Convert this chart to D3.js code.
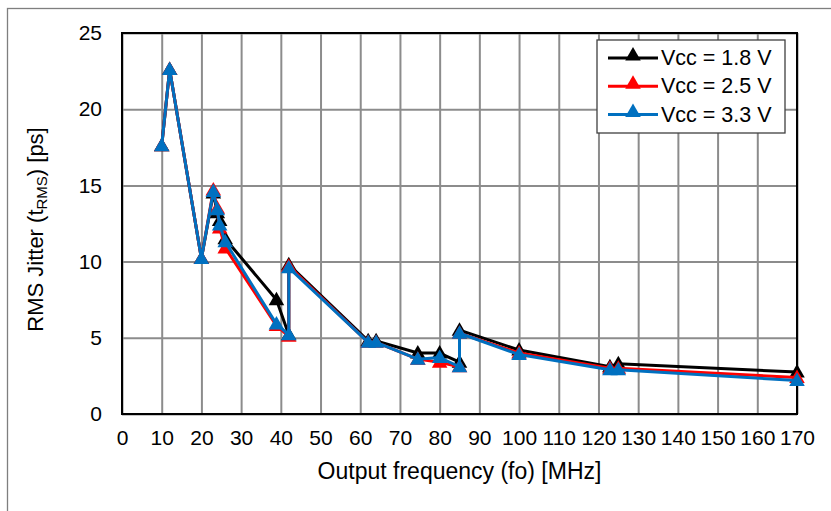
<!DOCTYPE html>
<html><head><meta charset="utf-8">
<script src="https://cdn.jsdelivr.net/npm/d3@7"></script>
<style>
body{margin:0;background:#fff;}
svg{display:block;font-family:"Liberation Sans",Arial,sans-serif;}
</style></head>
<body>
<svg id="c" width="831" height="511"></svg>
<script>
const freq = [10, 12, 20, 23, 24, 24.6, 26, 38.9, 42, 42, 62, 64, 74.5, 80, 85, 85, 100, 122.88, 125, 170];
const vcc18 = [17.6, 22.6, 10.2, 14.5, 13.2, 12.7, 11.5, 7.5, 5.2, 9.8, 4.8, 4.8, 4.0, 4.0, 3.4, 5.5, 4.2, 3.1, 3.3, 2.75];
const vcc25 = [17.6, 22.6, 10.2, 14.7, 13.5, 12.2, 10.9, 5.8, 5.1, 9.7, 4.7, 4.7, 3.6, 3.4, 3.1, 5.3, 4.0, 3.0, 3.0, 2.4];
const vcc33 = [17.6, 22.6, 10.2, 14.6, 13.4, 12.4, 11.3, 5.9, 5.2, 9.6, 4.7, 4.7, 3.6, 3.7, 3.1, 5.3, 3.9, 2.9, 2.9, 2.2];
const seriesNames = ["Vcc = 1.8 V", "Vcc = 2.5 V", "Vcc = 3.3 V"];
const seriesColors = ["#000000", "#ff0000", "#0070c0"];
const xTicks = d3.range(0, 171, 10);
const yTicks = d3.range(0, 26, 5);

const svg = d3.select("#c");
const L = 122, R = 797, T = 33, B = 414;
const x = d3.scaleLinear().domain([0, 170]).range([L, R]);
const y = d3.scaleLinear().domain([0, 25]).range([B, T]);

// outer chart border
svg.append("rect").attr("x", 7.5).attr("y", 8.5).attr("width", 830).attr("height", 520)
  .attr("fill", "none").attr("stroke", "#7f7f7f").attr("stroke-width", 1.3);

// gridlines
const gx = svg.append("g").attr("transform", `translate(0,${B})`)
  .call(d3.axisBottom(x).tickValues(xTicks).tickSize(-(B - T)).tickFormat(""));
gx.select(".domain").remove();
gx.selectAll("line").attr("stroke", "#8c8c8c").attr("stroke-width", 2);
const gy = svg.append("g").attr("transform", `translate(${L},0)`)
  .call(d3.axisLeft(y).tickValues(yTicks).tickSize(-(R - L)).tickFormat(""));
gy.select(".domain").remove();
gy.selectAll("line").attr("stroke", "#8c8c8c").attr("stroke-width", 2);

// frame
svg.append("rect").attr("x", L).attr("y", T).attr("width", R - L).attr("height", B - T)
  .attr("fill", "none").attr("stroke", "#000").attr("stroke-width", 2);

// tick labels
const ax = svg.append("g").attr("transform", `translate(0,${B})`)
  .call(d3.axisBottom(x).tickValues(xTicks).tickSize(0).tickPadding(16).tickFormat(d3.format("d")));
ax.select(".domain").remove();
ax.selectAll("text").attr("font-size", 21).attr("fill", "#000").attr("font-family", "Liberation Sans, Arial, sans-serif");
const ay = svg.append("g").attr("transform", `translate(${L},0)`)
  .call(d3.axisLeft(y).tickValues(yTicks).tickSize(0).tickPadding(20).tickFormat(d3.format("d")));
ay.select(".domain").remove();
ay.selectAll("text").attr("font-size", 21).attr("fill", "#000").attr("font-family", "Liberation Sans, Arial, sans-serif");

// axis titles
svg.append("text").attr("x", (L + R) / 2).attr("y", 479).attr("text-anchor", "middle")
  .attr("font-size", 23).text("Output frequency (fo) [MHz]");
const yt = svg.append("text").attr("transform", `translate(43,${(T + B) / 2 + 6}) rotate(-90)`)
  .attr("text-anchor", "middle").attr("font-size", 22);
yt.append("tspan").text("RMS Jitter (t");
yt.append("tspan").attr("font-size", 15).attr("dy", 4).text("RMS");
yt.append("tspan").attr("dy", -4).text(") [ps]");

// series
const all = [vcc18, vcc25, vcc33];
const tri = d3.symbol().type(d3.symbolTriangle).size(105);
all.forEach((vals, i) => {
  const pts = freq.map((f, j) => [f, vals[j]]);
  svg.append("path").datum(pts)
    .attr("d", d3.line().x(d => x(d[0])).y(d => y(d[1])))
    .attr("fill", "none").attr("stroke", seriesColors[i]).attr("stroke-width", 3)
    .attr("stroke-linejoin", "round");
  svg.append("g").selectAll("path").data(pts).join("path")
    .attr("d", tri)
    .attr("transform", d => `translate(${x(d[0])},${y(d[1]) + 1})`)
    .attr("fill", seriesColors[i]);
});

// legend
const lg = svg.append("g");
lg.append("rect").attr("x", 597).attr("y", 40).attr("width", 188).attr("height", 93)
  .attr("fill", "#fff").attr("stroke", "#404040").attr("stroke-width", 1.3);
seriesNames.forEach((n, i) => {
  const yy = 58 + i * 28.3;
  lg.append("line").attr("x1", 608).attr("x2", 658).attr("y1", yy).attr("y2", yy)
    .attr("stroke", seriesColors[i]).attr("stroke-width", 3);
  lg.append("path").attr("d", tri).attr("transform", `translate(633,${yy - 2})`).attr("fill", seriesColors[i]);
  lg.append("text").attr("x", 661).attr("y", yy + 7).attr("font-size", 21.5).text(n);
});
</script>
</body></html>
